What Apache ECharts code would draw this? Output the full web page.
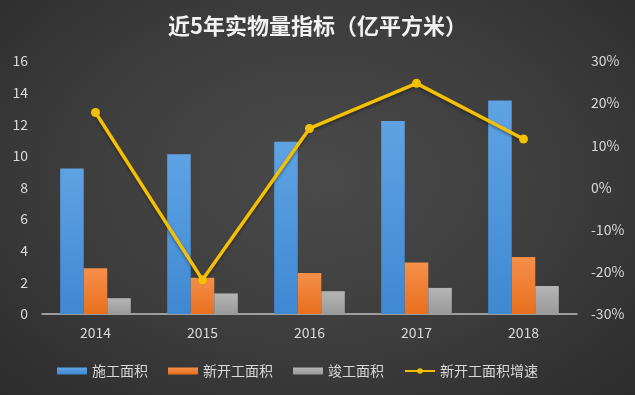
<!DOCTYPE html>
<html><head><meta charset="utf-8">
<script src="https://cdn.jsdelivr.net/npm/echarts@6/dist/echarts.min.js"></script>
<style>html,body{margin:0;padding:0;}#c{width:635px;height:395px;background:radial-gradient(ellipse at 50% 45%,#4a4a4a 0%,#3e3e3e 50%,#2c2c2c 100%);}</style>
</head><body><div id="c"></div>
<script>
var categories = ['2014','2015','2016','2017','2018'];
var construction = [9.2, 10.1, 10.9, 12.2, 13.5];
var newStarts = [2.9, 2.3, 2.6, 3.25, 3.6];
var completed = [1.0, 1.3, 1.44, 1.65, 1.77];
var newStartsGrowth = [17.8, -21.9, 14.0, 24.7, 11.5];
var seriesNames = ['施工面积','新开工面积','竣工面积','新开工面积增速'];
var titleText = '近5年实物量指标（亿平方米）';

function grad(top, bottom){
  return new echarts.graphic.LinearGradient(0,0,0,1,[{offset:0,color:top},{offset:1,color:bottom}]);
}
var font = '"Noto Sans CJK SC", "Microsoft YaHei", sans-serif';
var txt = '#d9d9d9';
var chart = echarts.init(document.getElementById('c'), null, {renderer:'canvas'});
chart.setOption({
  backgroundColor: 'transparent',
  animation: false,
  title: {text: titleText, left: 'center', top: 10,
    textStyle: {color: '#f2f2f2', fontSize: 22, fontWeight: 'bold', fontFamily: font}},
  legend: {bottom: 12, left: 52, itemGap: 20, itemWidth: 30, itemHeight: 7,
    textStyle: {color: txt, fontSize: 14, fontFamily: font},
    data: [
      {name: seriesNames[0], icon: 'rect'},
      {name: seriesNames[1], icon: 'rect'},
      {name: seriesNames[2], icon: 'rect'},
      {name: seriesNames[3]}
    ]},
  grid: {left: 42, right: 58, top: 61, bottom: 81, containLabel: false},
  xAxis: {type: 'category', data: categories,
    axisLine: {lineStyle: {color: '#bfbfbf', width: 1.5}},
    axisTick: {show: false},
    axisLabel: {color: txt, fontSize: 14, fontFamily: font, margin: 12}},
  yAxis: [
    {type: 'value', min: 0, max: 16, interval: 2,
     axisLine: {show: false}, axisTick: {show: false}, splitLine: {show: false},
     axisLabel: {color: txt, fontSize: 14, fontFamily: font, margin: 14}},
    {type: 'value', min: -30, max: 30, interval: 10,
     axisLine: {show: false}, axisTick: {show: false}, splitLine: {show: false},
     axisLabel: {color: txt, fontSize: 14, fontFamily: font, margin: 14, formatter: '{value}%'}}
  ],
  series: [
    {name: seriesNames[0], type: 'bar', data: construction, barGap: '0%', barCategoryGap: '34%',
     itemStyle: {color: grad('#5fa3e3','#3f88d2')}},
    {name: seriesNames[1], type: 'bar', data: newStarts,
     itemStyle: {color: grad('#f58f4a','#e8701e')}},
    {name: seriesNames[2], type: 'bar', data: completed,
     itemStyle: {color: grad('#b5b5b5','#9a9a9a')}},
    {name: seriesNames[3], type: 'line', yAxisIndex: 1, data: newStartsGrowth,
     symbol: 'circle', symbolSize: 9,
     lineStyle: {color: '#f5c000', width: 3.5, shadowColor: 'rgba(0,0,0,0.35)', shadowBlur: 3, shadowOffsetY: 2},
     itemStyle: {color: '#f5c000'}}
  ]
});
</script></body></html>
